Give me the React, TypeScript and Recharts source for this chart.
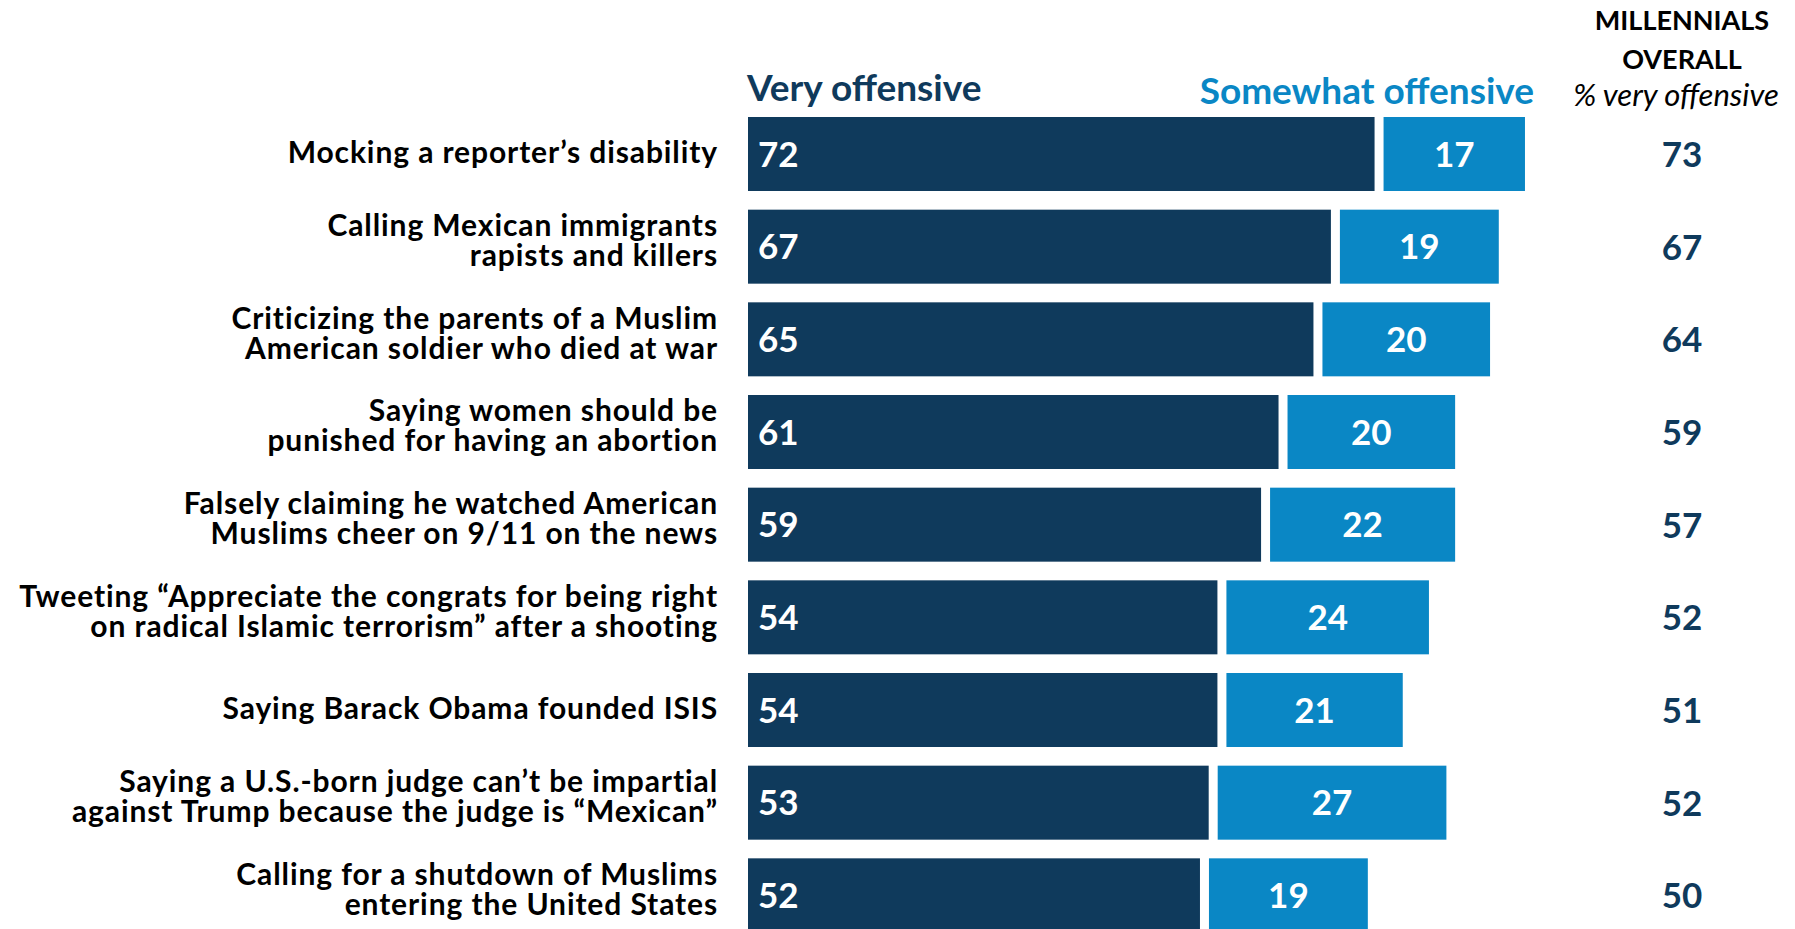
import React from "react";
import { BarChart, Bar, XAxis, YAxis, LabelList } from "recharts";

const categories = [
  "Mocking a reporter\u2019s disability",
  "Calling Mexican immigrants\nrapists and killers",
  "Criticizing the parents of a Muslim\nAmerican soldier who died at war",
  "Saying women should be\npunished for having an abortion",
  "Falsely claiming he watched American\nMuslims cheer on 9/11 on the news",
  "Tweeting \u201cAppreciate the congrats for being right\non radical Islamic terrorism\u201d after a shooting",
  "Saying Barack Obama founded ISIS",
  "Saying a U.S.-born judge can\u2019t be impartial\nagainst Trump because the judge is \u201cMexican\u201d",
  "Calling for a shutdown of Muslims\nentering the United States",
];
const veryOffensive = [72, 67, 65, 61, 59, 54, 54, 53, 52];
const somewhatOffensive = [17, 19, 20, 20, 22, 24, 21, 27, 19];
const millennialsOverall = [73, 67, 64, 59, 57, 52, 51, 52, 50];

const seriesNames = { very: "Very offensive", somewhat: "Somewhat offensive" };
const columnTitle = ["MILLENNIALS", "OVERALL"];
const columnSubtitle = "% very offensive";

const data = categories.map((label, i) => ({
  label,
  very: veryOffensive[i],
  somewhat: somewhatOffensive[i],
  millennials: millennialsOverall[i],
}));

const DARK = "#0f3a5c";
const LIGHT = "#0a87c5";
const FONT = "Lato, 'Open Sans', sans-serif";

const LeftTick = (props: any) => {
  const { x, y, payload } = props;
  const lines = String(payload.value).split("\n");
  const fs = 30;
  const first = lines.length === 1 ? 9 : -11;
  return (
    <text
      x={x - 30}
      y={y + first}
      textAnchor="end"
      fontFamily={FONT}
      fontWeight={700}
      fontSize={fs}
      letterSpacing={0.9}
      fill="#000"
    >
      {lines.map((l, i) => (
        <tspan key={i} x={x - 30} dy={i === 0 ? 0 : 30}>
          {l}
        </tspan>
      ))}
    </text>
  );
};

const RightTick = (props: any) => {
  const { x, y, index } = props;
  const fs = 35;
  return (
    <text
      x={x + 61}
      y={y + fs * 0.36}
      textAnchor="middle"
      fontFamily={FONT}
      fontWeight={700}
      fontSize={fs}
      fill={DARK}
    >
      {millennialsOverall[index]}
    </text>
  );
};

const DarkShape = (props: any) => {
  const { x, y, width, height } = props;
  return <rect x={x} y={y} width={Math.max(0, width - 2)} height={height} fill={DARK} />;
};

const LightShape = (props: any) => {
  const { x, y, width, height } = props;
  return <rect x={x + 7} y={y} width={Math.max(0, width - 7)} height={height} fill={LIGHT} />;
};

const DarkLabel = (props: any) => {
  const { x, y, height, value } = props;
  const fs = 35;
  return (
    <text x={x + 10} y={y + height / 2 + fs * 0.36} fontFamily={FONT} fontWeight={700} fontSize={fs} fill="#fff">
      {value}
    </text>
  );
};

const LightLabel = (props: any) => {
  const { x, y, width, height, value } = props;
  const fs = 35;
  return (
    <text
      x={x + 7 + (width - 7) / 2}
      y={y + height / 2 + fs * 0.36}
      textAnchor="middle"
      fontFamily={FONT}
      fontWeight={700}
      fontSize={fs}
      fill="#fff"
    >
      {value}
    </text>
  );
};

export default function App() {
  return (
    <div
      style={{
        position: "fixed",
        left: 0,
        top: 0,
        width: 1795,
        height: 929,
        overflow: "hidden",
        background: "#fff",
      }}
    >
      <BarChart
        width={1795}
        height={942}
        data={data}
        layout="vertical"
        margin={{ top: 108, right: 0, bottom: 0, left: 0 }}
        barSize={74}
      >
        <XAxis type="number" domain={[0, 100]} hide />
        <YAxis
          yAxisId="left"
          type="category"
          dataKey="label"
          width={748}
          axisLine={false}
          tickLine={false}
          tickSize={0}
          tickMargin={0}
          interval={0}
          tick={<LeftTick />}
        />
        <YAxis
          yAxisId="right"
          orientation="right"
          type="category"
          dataKey="label"
          width={174}
          axisLine={false}
          tickLine={false}
          tickSize={0}
          tickMargin={0}
          interval={0}
          tick={<RightTick />}
        />
        <Bar
          yAxisId="left"
          dataKey="very"
          name={seriesNames.very}
          stackId="a"
          fill={DARK}
          shape={<DarkShape />}
          isAnimationActive={false}
        >
          <LabelList dataKey="very" content={<DarkLabel />} />
        </Bar>
        <Bar
          yAxisId="left"
          dataKey="somewhat"
          name={seriesNames.somewhat}
          stackId="a"
          fill={LIGHT}
          shape={<LightShape />}
          isAnimationActive={false}
        >
          <LabelList dataKey="somewhat" content={<LightLabel />} />
        </Bar>
      </BarChart>
      <svg
        width={1795}
        height={120}
        style={{ position: "absolute", left: 0, top: 0, pointerEvents: "none" }}
      >
        <text x={747} y={101} fontFamily={FONT} fontWeight={700} fontSize={37} fill={DARK}>
          {seriesNames.very}
        </text>
        <text x={1534} y={104} textAnchor="end" fontFamily={FONT} fontWeight={700} fontSize={37} fill={LIGHT}>
          {seriesNames.somewhat}
        </text>
        <text x={1682} y={30} textAnchor="middle" fontFamily={FONT} fontWeight={700} fontSize={27} fill="#000">
          {columnTitle[0]}
        </text>
        <text x={1682} y={69} textAnchor="middle" fontFamily={FONT} fontWeight={700} fontSize={27} fill="#000">
          {columnTitle[1]}
        </text>
        <text x={1676} y={106} textAnchor="middle" fontFamily={FONT} fontStyle="italic" fontSize={31} fill="#000">
          {columnSubtitle}
        </text>
      </svg>
    </div>
  );
}
